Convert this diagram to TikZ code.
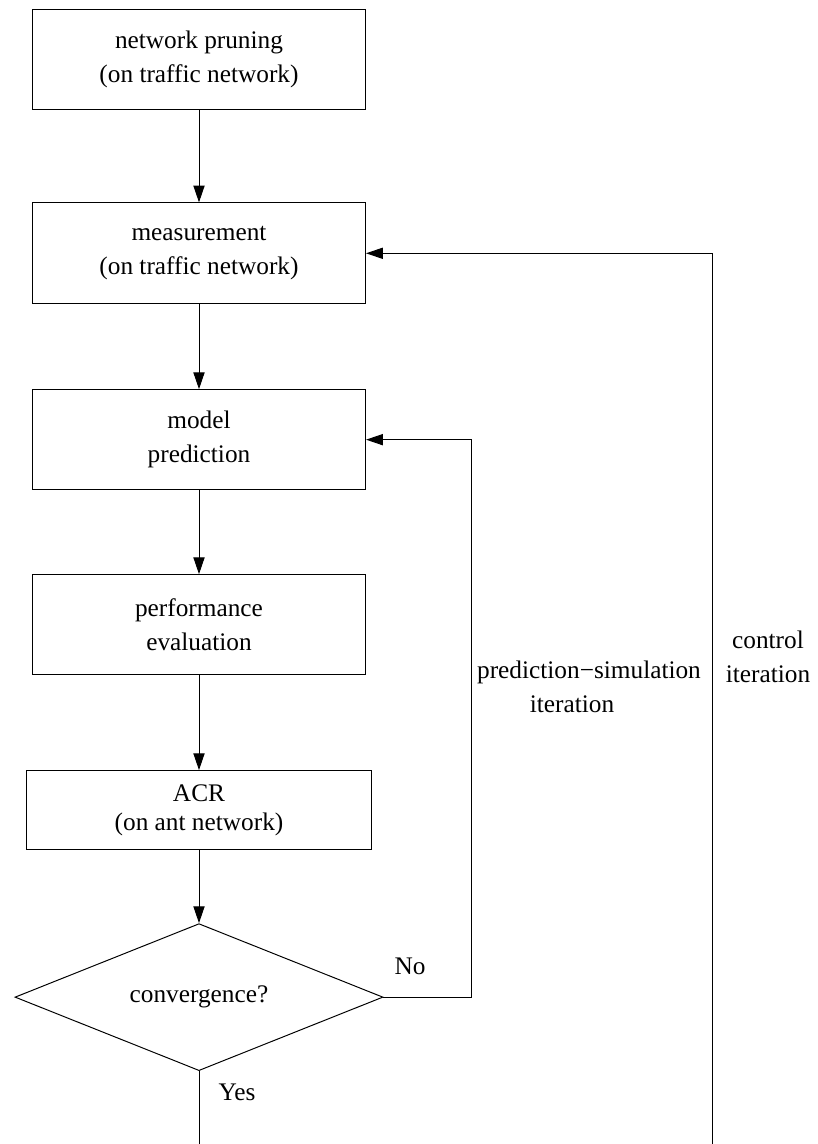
\documentclass[tikz,border=0pt]{standalone}
\usepackage{fontspec}
\setmainfont{Liberation Serif}
\usetikzlibrary{positioning, shapes.geometric, arrows.meta}

\begin{document}
\begin{tikzpicture}[node distance = 2.2cm, line width = 0.7pt, >={Triangle[length = 12pt, width = 8pt]}, every node/.style={font=\fontsize{18}{24}\selectfont}, block/.style={rectangle, draw, minimum width = 8.33cm, minimum height = 2.52cm, align = center}, decision/.style={diamond, draw, aspect = 2.5, minimum width = 9.2cm, minimum height = 3.675cm, inner sep = 1pt}]
  \useasboundingbox (0,0) rectangle (20.45,-28.6);
  % nodes
  \node [block] (prune) at (4.975,-1.4875) {network pruning\\(on traffic network)};
  \node [block][below = 2.3cm of prune] (measure) {measurement\\(on traffic network)};
  \node [block, minimum height = 2.5cm][below = 2.125cm of measure] (model) {model\\prediction};
  \node [block, minimum height = 2.5cm][below = 2.1cm of model] (perf) {performance\\evaluation};
  \node [block, minimum width = 8.63cm, minimum height = 1.975cm][below = 2.375cm of perf] (acr) {ACR\\[-0.12cm](on ant network)};
  \node [decision][below = 1.825cm of acr] (conv) {convergence?};

  \node (no) at (10.25,-24.15) {No};
  \node (yes) at (5.925,-27.3) {Yes};
  \node [align = center] (predlbl) at (14.725,-17.175) {prediction−simulation\\iteration\hspace*{0.85cm}};
  \node [align = center] (ctrllbl) at (19.2,-16.425) {control\\iteration};

  \coordinate (ctrl) at (17.8,-28.6);

  % edges
  \draw [->] (prune) -- (measure);
  \draw [->] (measure) -- (model);
  \draw [->] (model) -- (perf);
  \draw [->] (perf) -- (acr);
  \draw [->] (acr) -- (conv);

  \draw [->] (conv.east) -- ++(2.2,0) |- (model.east);
  \draw (conv.south) -- (conv.south |- ctrl);
  \draw [->] (ctrl) |- (measure.east);
\end{tikzpicture}
\end{document}
